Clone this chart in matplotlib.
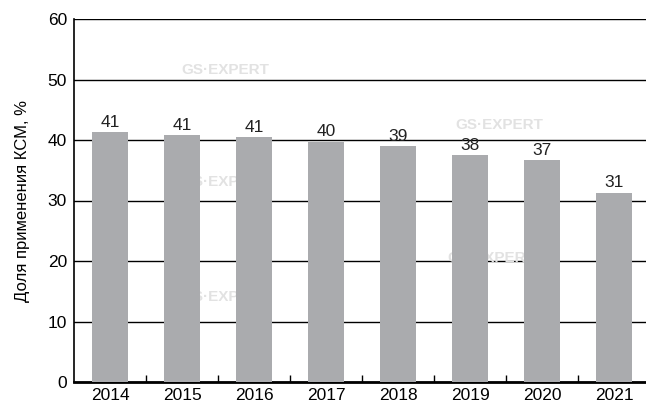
import matplotlib
matplotlib.use("Agg")
import matplotlib.pyplot as plt

years = ["2014", "2015", "2016", "2017", "2018", "2019", "2020", "2021"]
values = [41.3, 40.8, 40.5, 39.7, 39.0, 37.5, 36.7, 31.3]
labels = ["41", "41", "41", "40", "39", "38", "37", "31"]
yticks = [0, 10, 20, 30, 40, 50, 60]

plt.rcParams['font.family'] = ['Liberation Sans', 'DejaVu Sans']

fig = plt.figure(figsize=(6.46, 4.07), dpi=100)
ax = fig.add_axes([74/646, 25/407, 1 - 74/646, 363/407])

x = list(range(len(years)))
ax.set_axisbelow(True)
ax.yaxis.grid(True, color='black', linewidth=1.0)
ax.bar(x, values, width=0.5, color='#aaabae', zorder=3)
for xi, v, lab in zip(x, values, labels):
    ax.text(xi, v + 0.4, lab, ha='center', va='bottom', fontsize=12.5, color='#222222', zorder=4)

# watermarks
wm = [(1.6, 51.5), (5.4, 42.5), (1.6, 33.0), (5.3, 20.5), (1.6, 14.0)]
for wx, wy in wm:
    ax.text(wx, wy, "GS·EXPERT", ha='center', va='center', fontsize=11, color='#e2e2e2',
            fontweight='bold', zorder=1)

ax.set_xlim(-0.5, 7.444)
ax.set_ylim(0, 60)
ax.set_yticks(yticks)
ax.set_xticks(x)
ax.set_xticklabels(years)
ax.set_xticks([i + 0.5 for i in range(len(years) - 1)], minor=True)
ax.tick_params(axis='x', which='major', length=0, labelsize=12.5, pad=4)
ax.tick_params(axis='x', which='minor', length=5, width=1, direction='in', color='black')
ax.tick_params(axis='y', length=0, labelsize=12.5, pad=5)
for s in ['top', 'right']:
    ax.spines[s].set_visible(False)
ax.spines['left'].set_linewidth(1.2)
ax.spines['bottom'].set_linewidth(2.0)
ax.set_ylabel("Доля применения КСМ, %", fontsize=12, labelpad=13)

fig.savefig("out.png", dpi=100)
